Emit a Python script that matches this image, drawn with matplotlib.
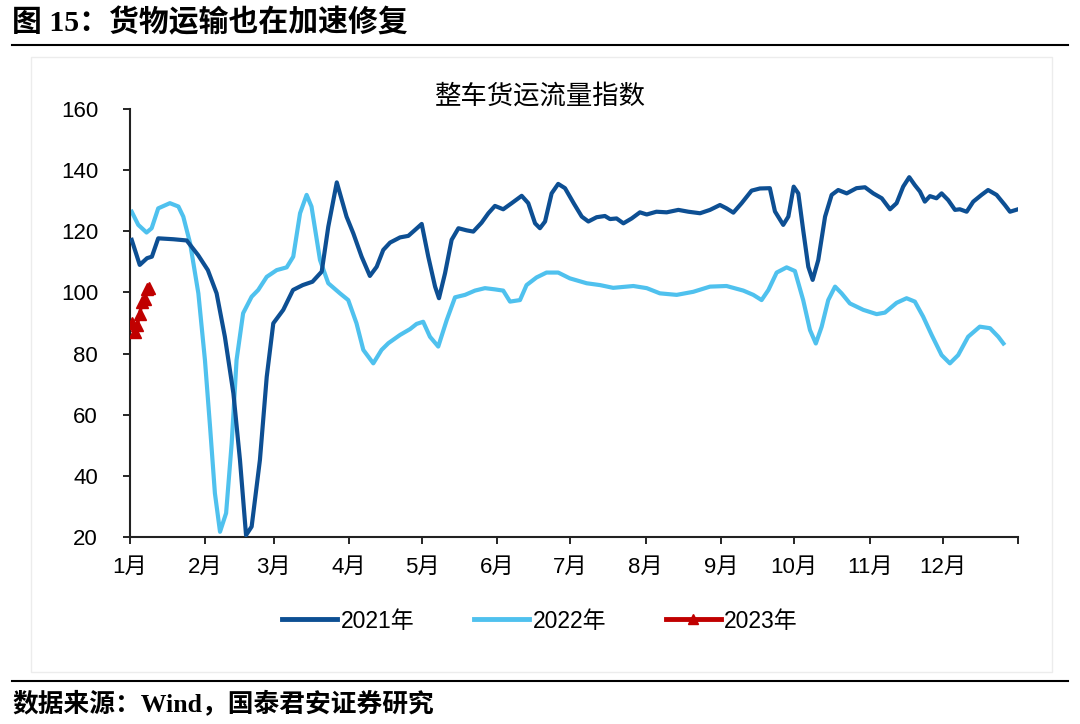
import matplotlib
matplotlib.use('Agg')
import matplotlib.pyplot as plt
from matplotlib.lines import Line2D
from matplotlib.patches import Rectangle

plt.rcParams['font.family'] = ['Liberation Sans', 'Noto Sans CJK SC', 'DejaVu Sans']

# ---------------------------------------------------------------------------
# Data (day of year, index value)
# ---------------------------------------------------------------------------
days_2021 = [0.7, 4, 7, 9, 11.6, 17.8, 23.3, 28, 32, 35.6, 39, 42.5, 45.2, 47.7, 50,
             53.4, 56.2, 58.9, 63, 67, 71, 75, 78.8, 81.5, 85, 89, 91.8, 95.2, 98.6,
             101.4, 104.1, 106.9, 111, 114.4, 117.1, 119.9, 122.6, 125.4, 127, 129.5,
             132.2, 135, 138.4, 141.1, 144.5, 147.3, 150, 153.4, 156.9, 161, 163.7,
             166.5, 168.5, 170.6, 173.3, 176, 178.8, 182.5, 185.7, 188.4, 191.8, 195.2,
             197.3, 200, 202.8, 206.2, 209.6, 212.4, 216.4, 220.6, 225.4, 229.5, 234.3,
             238.4, 242.5, 245.2, 248, 251.4, 255.5, 258.9, 263, 265.1, 268.5, 270.6,
             272.8, 274.7, 276.7, 278.8, 280.6, 282.9, 285.7, 288.4, 291.1, 294.6,
             298.6, 302.1, 305.5, 309, 312.4, 315.1, 317.8, 320.3, 322.6, 324.7, 326.7,
             328.8, 331.5, 333.6, 336.3, 339.1, 341.1, 343.9, 346.6, 350, 352.7, 356.2,
             359.6, 361.7, 365]
vals_2021 = [117.2, 109, 111.2, 111.7, 117.7, 117.4, 117, 112.2, 107.3, 99.7, 85.5, 67,
             45.2, 20.6, 23.4, 45.2, 72.4, 89.9, 94.3, 100.8, 102.4, 103.5, 106.8, 121.5,
             136, 124.8, 119.3, 111.7, 105.4, 108.4, 113.9, 116.3, 118, 118.5, 120.4,
             122.4, 111.7, 101.9, 98.1, 106.3, 117.2, 121, 120.3, 119.9, 122.8, 125.9,
             128.3, 127.2, 129.2, 131.6, 129.2, 122.6, 121, 123.2, 132.4, 135.5, 134.1,
             129, 124.8, 123.2, 124.6, 125, 124, 124.2, 122.6, 124.2, 126.2, 125.5, 126.4,
             126.2, 127, 126.4, 125.9, 127, 128.6, 127.5, 126.1, 129.2, 133.3, 134, 134.1,
             126.5, 122.1, 124.8, 134.6, 132.4, 120.4, 108.4, 104.1, 110.6, 124.8, 131.9,
             133.5, 132.4, 134.1, 134.4, 132.4, 130.8, 127.2, 129.2, 134.6, 137.7, 135.1,
             133, 129.7, 131.5, 130.8, 132.4, 130.2, 127, 127.2, 126.4, 129.7, 131.9,
             133.5, 131.9, 128.6, 126.4, 127.2]

days_2022 = [0.7, 3.4, 6.8, 8.9, 11.6, 16.4, 19.9, 21.9, 24.7, 28.1, 30.8, 32.9, 34.9, 37,
             39.5, 41.8, 43.8, 46.5, 50, 52.7, 56.2, 60.3, 64.4, 67.1, 69.9, 72.6, 74.6,
             78.1, 81.5, 86.3, 89.7, 93.1, 95.9, 100, 103.4, 106.2, 111, 115.1, 117.8,
             120.5, 123.3, 126.7, 130.2, 133.6, 137.7, 141.8, 145.9, 150, 153.4, 156.2,
             160.3, 163, 167.1, 171.2, 176, 180.8, 187.7, 193.2, 198.6, 206.9, 212.4,
             217.8, 224.7, 231.5, 238.4, 245.2, 252.1, 256.2, 259.6, 262.4, 265.8, 269.9,
             273.3, 276.7, 279.5, 281.9, 284.3, 287, 289.8, 292.5, 295.9, 301.4, 306.9,
             310.3, 315.1, 319.2, 322.6, 326, 329.5, 333.6, 337, 340.4, 344.5, 349.3,
             353.5, 356.9, 359]
vals_2022 = [126.4, 122.1, 119.6, 121, 127.5, 129.2, 128.1, 124.8, 116.1, 99.7, 77.9, 56.1,
             34.3, 21.7, 27.8, 50.7, 77.9, 93.2, 98.6, 100.8, 105.1, 107.3, 108.2, 111.7,
             125.9, 131.9, 128.1, 110.6, 103, 99.7, 97.5, 89.9, 81.2, 76.8, 81.2, 83.4,
             86.1, 88, 89.7, 90.4, 85.5, 82.3, 91, 98.4, 99.2, 100.6, 101.4, 101, 100.6,
             97, 97.5, 102.4, 104.9, 106.5, 106.5, 104.6, 103, 102.4, 101.5, 102.1, 101.4,
             99.7, 99.2, 100.2, 101.9, 102.1, 100.6, 99.2, 97.5, 100.8, 106.5, 108.2, 107,
             97.5, 87.7, 83.3, 88.8, 97.5, 101.9, 99.7, 96.4, 94.3, 92.9, 93.4, 96.6, 98.1,
             97, 92.1, 86.1, 79.5, 76.8, 79.5, 85.5, 88.8, 88.3, 85.5, 83.3]

days_2023 = [1, 2, 3, 4, 5, 6, 7, 8]
vals_2023 = [90, 87, 89.5, 93, 97, 98, 101, 101.5]

month_starts = [0, 31, 59, 90, 120, 151, 181, 212, 243, 273, 304, 334, 365]
month_labels = ['1月', '2月', '3月', '4月', '5月', '6月', '7月', '8月', '9月',
                '10月', '11月', '12月', '']
y_ticks = [20, 40, 60, 80, 100, 120, 140, 160]

C2021 = '#0D4F93'
C2022 = '#4FC1EE'
C2023 = '#C00000'

# ---------------------------------------------------------------------------
# Figure
# ---------------------------------------------------------------------------
fig = plt.figure(figsize=(10.8, 7.24), dpi=100)

# faint outer frame of the chart area
fig.patches.append(Rectangle((31 / 1080, 1 - 672 / 724), 1021 / 1080, 615 / 724,
                             transform=fig.transFigure, fill=False,
                             edgecolor='#ececec', linewidth=1.0))

ax = fig.add_axes([130 / 1080, 1 - 537 / 724, 888 / 1080, 428 / 724])

ax.plot(days_2021, vals_2021, color=C2021, lw=3.0, solid_joinstyle='round',
        label='2021年', zorder=3)
ax.plot(days_2022, vals_2022, color=C2022, lw=3.0, solid_joinstyle='round',
        label='2022年', zorder=2)
ax.plot(days_2023, vals_2023, color=C2023, lw=2.5, marker='^', markersize=8,
        label='2023年', zorder=4)

ax.set_xlim(0, 365)
ax.set_ylim(20, 160)
ax.set_yticks(y_ticks)
ax.set_xticks(month_starts)
ax.set_xticklabels(month_labels)
ax.tick_params(axis='y', direction='out', length=5, width=1.2, labelsize=16, pad=18)
ax.tick_params(axis='x', direction='out', length=5, width=1.2, labelsize=16, pad=9)

for side in ('top', 'right'):
    ax.spines[side].set_visible(False)
for side in ('left', 'bottom'):
    ax.spines[side].set_linewidth(1.5)
    ax.spines[side].set_color('#222222')

# chart title
fig.text(0.5, 1 - 96 / 724, '整车货运流量指数', ha='center', va='center',
         fontsize=19, family=['Noto Sans CJK SC'])

# legend
handles = [Line2D([], [], color=C2021, lw=3.5),
           Line2D([], [], color=C2022, lw=3.5),
           Line2D([], [], color=C2023, lw=3.5, marker='^', markersize=7)]
fig.legend(handles, ['2021年', '2022年', '2023年'], loc='center',
           bbox_to_anchor=(0.5, 1 - 621 / 724), ncol=3, frameon=False,
           fontsize=16.5, handlelength=2.4, handletextpad=0.15, columnspacing=2.6)

# report header and footer
fig.text(12 / 1080, 1 - 23 / 724, '图 15：货物运输也在加速修复', ha='left', va='center',
         fontsize=21.5, fontweight='bold', family=['Liberation Serif', 'Noto Sans CJK SC'])
fig.add_artist(Line2D([12 / 1080, 1068 / 1080], [1 - 45 / 724, 1 - 45 / 724],
                      color='black', lw=1.5, transform=fig.transFigure))
fig.add_artist(Line2D([12 / 1080, 1068 / 1080], [1 - 681 / 724, 1 - 681 / 724],
                      color='black', lw=1.5, transform=fig.transFigure))
fig.text(12 / 1080, 1 - 703 / 724, '数据来源：Wind，国泰君安证券研究', ha='left', va='center',
         fontsize=18.5, fontweight='bold', family=['Liberation Serif', 'Noto Sans CJK SC'])

fig.savefig('out.png', dpi=100)
plt.close(fig)
